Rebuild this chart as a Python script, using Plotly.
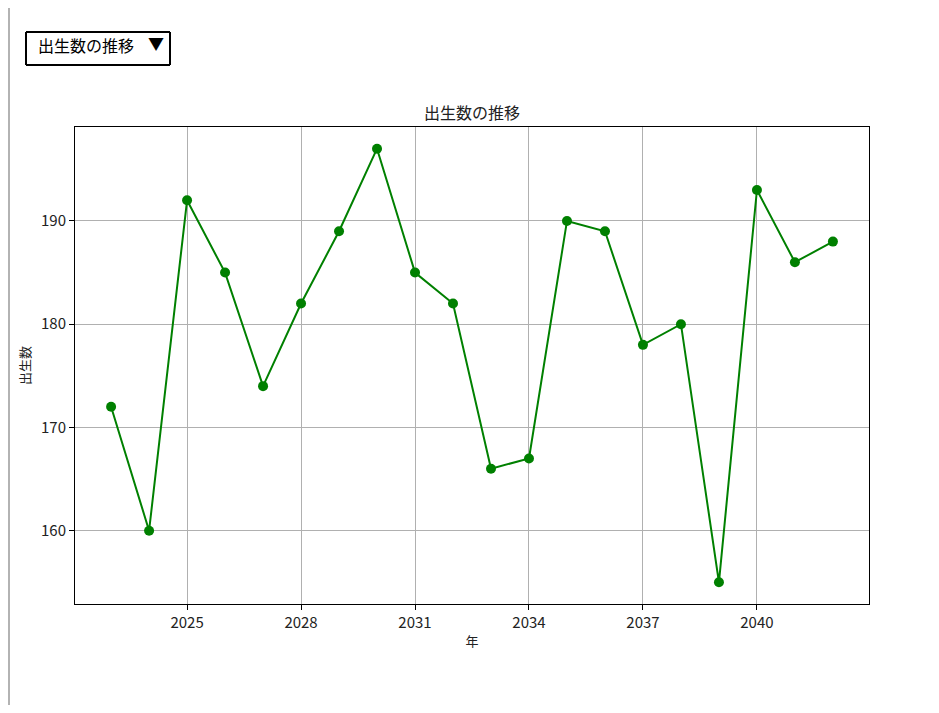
import plotly.graph_objects as go

years = list(range(2023, 2043))
births = [172, 160, 192, 185, 174, 182, 189, 197, 185, 182,
          166, 167, 190, 189, 178, 180, 155, 193, 186, 188]
x_ticks = [2025, 2028, 2031, 2034, 2037, 2040]
y_ticks = [160, 170, 180, 190]

FONT = "Noto Sans CJK JP"
TICKFONT = "Liberation Sans Narrow, Noto Sans CJK JP"

W, H = 923, 697
L, T = 67, 119
R = W - (869 - 8)
B = H - (604 - 8)
PW = W - L - R
PH = H - T - B

fig = go.Figure()
fig.add_trace(go.Scatter(
    x=years, y=births, mode="lines+markers",
    line=dict(color="#008000", width=2),
    marker=dict(color="#008000", size=10),
    name="出生数",
))

axis_common = dict(
    showline=True, linecolor="black", linewidth=1, mirror=True,
    showgrid=True, gridcolor="#b0b0b0", gridwidth=1,
    ticks="outside", ticklen=5, tickwidth=1, tickcolor="black",
    zeroline=False, tickfont=dict(family=TICKFONT, size=15, color="#222"),
)

fig.update_layout(
    width=W, height=H,
    margin=dict(l=L, r=R, t=T, b=B),
    paper_bgcolor="white", plot_bgcolor="white",
    showlegend=False,
    font=dict(family=FONT, color="black"),
    title=dict(text="出生数の推移", x=(L + PW / 2) / W, xanchor="center",
               y=1 - (113 - 8) / H, yanchor="middle",
               font=dict(family=FONT, size=16, color="#222")),
    xaxis=dict(range=[2022.05, 2042.95], tickvals=x_ticks,
               title=dict(text="年", font=dict(family=FONT, size=13, color="#222"), standoff=5),
               **axis_common),
    yaxis=dict(range=[152.9, 199.1], tickvals=y_ticks,
               title=dict(text="出生数", font=dict(family=FONT, size=13, color="#222"), standoff=7),
               **axis_common),
    updatemenus=[dict(
        type="dropdown", active=0,
        buttons=[dict(label="出生数の推移\u00a0\u00a0", method="skip", args=[None])],
        x=(24 - 75) / PW, xanchor="left",
        y=(604 - 30) / PH, yanchor="top",
        pad=dict(l=0, r=0, t=0, b=0),
        bgcolor="white", bordercolor="black", borderwidth=2,
        font=dict(family=FONT, size=16, color="black"),
        showactive=False,
    )],
    shapes=[dict(type="line", xref="paper", yref="paper",
                 x0=(-L + 1) / PW, x1=(-L + 1) / PW,
                 y0=-B / PH, y1=(PH + T) / PH,
                 line=dict(color="#9a9a9a", width=1.5))],
)

fig.write_html("out.html")
